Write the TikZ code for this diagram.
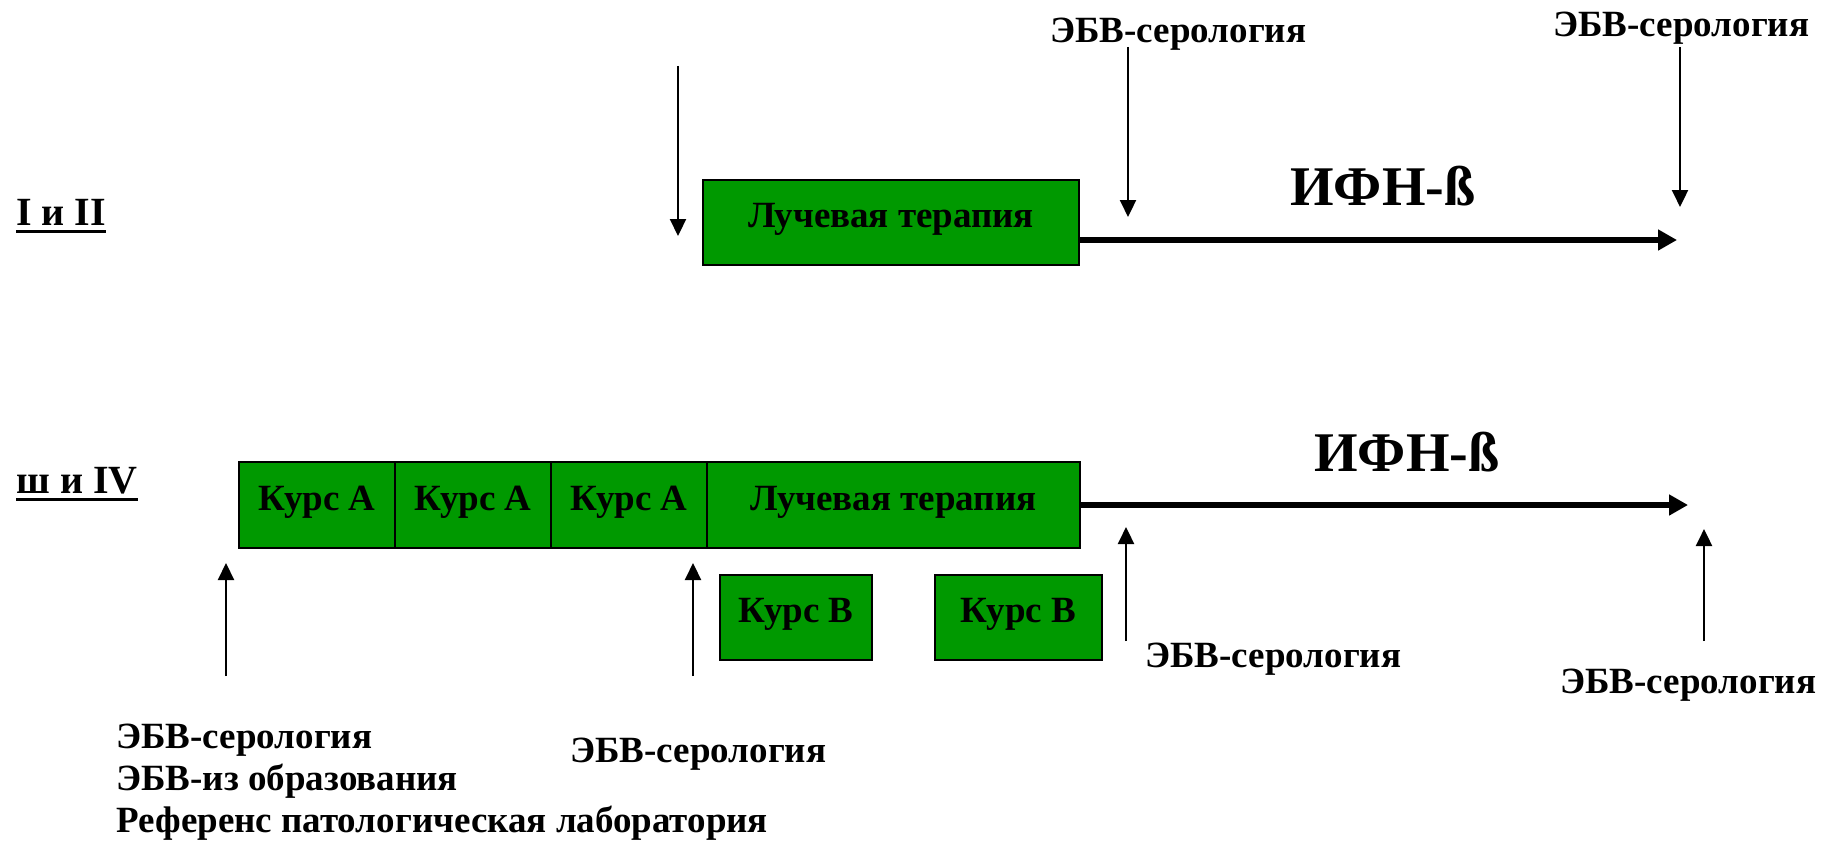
\documentclass[tikz,border=0pt]{standalone}
\usepackage{fontspec}
\setmainfont{Liberation Serif}
\usetikzlibrary{arrows.meta}
\definecolor{boxgreen}{RGB}{0,153,0}
\newcommand\ulbar[1]{\setbox0\hbox{#1}\rlap{\rule[-4pt]{\wd0}{1.7pt}}\box0}
\tikzset{
 box/.style={draw=black, line width=0.6pt, fill=boxgreen, inner sep=0pt, text height=13pt, text depth=8pt, font=\bfseries\fontsize{18.5}{22}\selectfont},
 lbl/.style={inner sep=0pt, anchor=base west, font=\bfseries\fontsize{18.5}{22}\selectfont},
 stage/.style={inner sep=0pt, anchor=base west, font=\bfseries\fontsize{20}{24}\selectfont},
 big/.style={inner sep=0pt, anchor=base west, font=\bfseries\fontsize{28}{32}\selectfont},
 thinarrow/.style={line width=1.1pt, -{Triangle[length=8.5pt,width=8pt]}},
 thickarrow/.style={line width=2.6pt, -{Triangle[length=9.5pt,width=10pt]}},
}
\begin{document}
\begin{tikzpicture}[x=0.5pt,y=-0.5pt]
\useasboundingbox (0,0) rectangle (1823,840);
% stage labels
\node[stage] (s12) at (16,225) {\ulbar{I и II}};
\node[stage] (s34) at (16,493) {\ulbar{ш и IV}};
% top row
\node[box, minimum width=188pt, minimum height=42.5pt] (rt1) at (891,222.5) {Лучевая терапия};
\node[big] (ifn1) at (1290,205) {ИФН-ß};
\node[lbl] (e1) at (1050,43) {ЭБВ-серология};
\node[lbl] (e2) at (1553,37) {ЭБВ-серология};
\coordinate (a0s) at (678,66); \coordinate (a0e) at (678,236);
\coordinate (a1s) at (1128,47); \coordinate (a1e) at (1128,217);
\coordinate (a2s) at (1680,47); \coordinate (a2e) at (1680,207);
\coordinate (t1e) at (1677,240);
\draw[thinarrow] (a0s) -- (a0e);
\draw[thinarrow] (a1s) -- (a1e);
\draw[thinarrow] (a2s) -- (a2e);
\draw[thickarrow] (rt1.east |- t1e) -- (t1e);
% bottom row
\node[box, minimum width=78pt, minimum height=43pt] (ka1) at (317,505) {Курс А};
\node[box, minimum width=78pt, minimum height=43pt] (ka2) at (473,505) {Курс А};
\node[box, minimum width=78pt, minimum height=43pt] (ka3) at (629,505) {Курс А};
\node[box, minimum width=186.5pt, minimum height=43pt] (rt2) at (893.5,505) {Лучевая терапия};
\node[box, minimum width=76pt, minimum height=42.5pt] (kb1) at (796,617.5) {Курс В};
\node[box, minimum width=83.5pt, minimum height=42.5pt] (kb2) at (1018.5,617.5) {Курс В};
\node[big] (ifn2) at (1314,471) {ИФН-ß};
\coordinate (t2e) at (1688,505);
\draw[thickarrow] (rt2.east) -- (t2e);
\coordinate (u1s) at (226,676); \coordinate (u1e) at (226,563);
\coordinate (u2s) at (693,676); \coordinate (u2e) at (693,563);
\coordinate (u3s) at (1126,641); \coordinate (u3e) at (1126,527);
\coordinate (u4s) at (1704,641); \coordinate (u4e) at (1704,529);
\draw[thinarrow] (u1s) -- (u1e);
\draw[thinarrow] (u2s) -- (u2e);
\draw[thinarrow] (u3s) -- (u3e);
\draw[thinarrow] (u4s) -- (u4e);
\node[lbl] (e3) at (1145,667) {ЭБВ-серология};
\node[lbl] (e4) at (1560,693) {ЭБВ-серология};
\node[lbl] (e5) at (570,762) {ЭБВ-серология};
\node[lbl] (b1) at (116,748) {ЭБВ-серология};
\node[lbl] (b2) at (116,790) {ЭБВ-из образования};
\node[lbl] (b3) at (116,832) {Референс патологическая лаборатория};
\end{tikzpicture}
\end{document}
